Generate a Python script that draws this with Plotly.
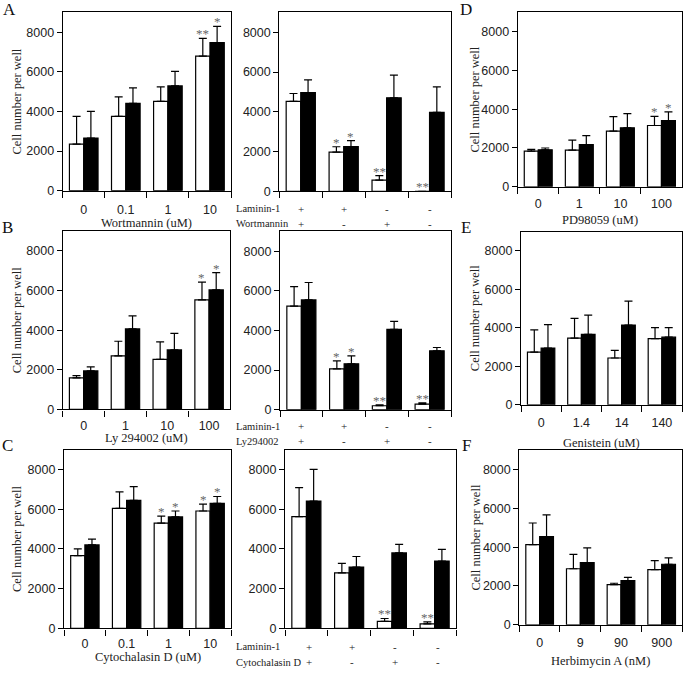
import plotly.graph_objects as go

W, H = 685, 675

# ---------------- data ----------------
wort_cats = ["0", "0.1", "1", "10"]
wort_white = [2350, 3750, 4510, 6790]
wort_white_err = [1400, 990, 730, 900]
wort_black = [2660, 4410, 5290, 7470]
wort_black_err = [1340, 780, 730, 820]

wortlam_cats = ["1", "2", "3", "4"]
wortlam_white = [4520, 1970, 560, 0]
wortlam_white_err = [400, 270, 230, 0]
wortlam_black = [4970, 2250, 4700, 3970]
wortlam_black_err = [630, 300, 1140, 1280]

pd_cats = ["0", "1", "10", "100"]
pd_white = [1840, 1890, 2870, 3160]
pd_white_err = [90, 520, 750, 470]
pd_black = [1910, 2170, 3040, 3410]
pd_black_err = [90, 470, 730, 450]

ly_cats = ["0", "1", "10", "100"]
ly_white = [1590, 2700, 2530, 5530]
ly_white_err = [120, 740, 880, 890]
ly_black = [1940, 4060, 3000, 6030]
ly_black_err = [210, 660, 840, 870]

lylam_cats = ["1", "2", "3", "4"]
lylam_white = [5230, 2060, 200, 280]
lylam_white_err = [980, 400, 50, 70]
lylam_black = [5540, 2320, 4050, 2970]
lylam_black_err = [880, 400, 410, 170]

gen_cats = ["0", "1.4", "14", "140"]
gen_white = [2740, 3460, 2430, 3440]
gen_white_err = [1150, 1030, 400, 570]
gen_black = [2950, 3660, 4140, 3510]
gen_black_err = [1210, 1000, 1250, 500]

cyto_cats = ["0", "0.1", "1", "10"]
cyto_white = [3660, 6040, 5300, 5910]
cyto_white_err = [340, 830, 350, 350]
cyto_black = [4200, 6440, 5610, 6290]
cyto_black_err = [290, 700, 300, 350]

cytolam_cats = ["1", "2", "3", "4"]
cytolam_white = [5630, 2800, 350, 230]
cytolam_white_err = [1460, 470, 150, 100]
cytolam_black = [6410, 3090, 3800, 3390]
cytolam_black_err = [1590, 530, 430, 590]

herb_cats = ["0", "9", "90", "900"]
herb_white = [4130, 2890, 2070, 2840]
herb_white_err = [1120, 740, 70, 470]
herb_black = [4550, 3210, 2280, 3120]
herb_black_err = [1120, 760, 160, 330]

laminin_signs = ["+", "+", "-", "-"]
drug_signs = ["+", "-", "+", "-"]

y_ticks = [0, 2000, 4000, 6000, 8000]
y_title = "Cell number per well"

# stars: (category index, 'w' or 'b', text)
wort_stars = [(3, "w", "**"), (3, "b", "*")]
wortlam_stars = [(1, "w", "*"), (1, "b", "*"), (2, "w", "**"), (3, "w", "**")]
pd_stars = [(3, "w", "*"), (3, "b", "*")]
ly_stars = [(3, "w", "*"), (3, "b", "*")]
lylam_stars = [(1, "w", "*"), (1, "b", "*"), (2, "w", "**"), (3, "w", "**")]
gen_stars = []
cyto_stars = [(2, "w", "*"), (2, "b", "*"), (3, "w", "*"), (3, "b", "*")]
cytolam_stars = [(2, "w", "**"), (3, "w", "**")]
herb_stars = []

# ---------------- panel layout (pixel boxes: left, right, top, bottom) ----------------
panels = [
    dict(cats=wort_cats, w=wort_white, we=wort_white_err, b=wort_black, be=wort_black_err,
         stars=wort_stars, box=(62.7, 231, 12.5, 192.7), kind="left", standoff=7,
         xtitle="Wortmannin (uM)", xt_y=225, letter="A", let_xy=(9, 10), ytitle_x=17),
    dict(cats=wortlam_cats, w=wortlam_white, we=wortlam_white_err, b=wortlam_black, be=wortlam_black_err,
         stars=wortlam_stars, box=(279.3, 451, 12.5, 193.3), kind="mid", standoff=5,
         rowname="Wortmannin", rows_y=(211, 226), sign_shift=0),
    dict(cats=pd_cats, w=pd_white, we=pd_white_err, b=pd_black, be=pd_black_err,
         stars=pd_stars, box=(517.7, 682, 12.5, 188.7), kind="left", standoff=5,
         xtitle="PD98059 (uM)", xt_y=222, letter="D", let_xy=(466, 10), ytitle_x=475),
    dict(cats=ly_cats, w=ly_white, we=ly_white_err, b=ly_black, be=ly_black_err,
         stars=ly_stars, box=(62.7, 230, 233.5, 413.7), kind="left", standoff=4,
         xtitle="Ly 294002 (uM)", xt_y=442.5, letter="B", let_xy=(7, 230), ytitle_x=17),
    dict(cats=lylam_cats, w=lylam_white, we=lylam_white_err, b=lylam_black, be=lylam_black_err,
         stars=lylam_stars, box=(280, 451, 233.8, 414), kind="mid", standoff=5,
         rowname="Ly294002", rows_y=(430.7, 446), sign_shift=0),
    dict(cats=gen_cats, w=gen_white, we=gen_white_err, b=gen_black, be=gen_black_err,
         stars=gen_stars, box=(521, 682, 234, 409), kind="left", standoff=6,
         xtitle="Genistein (uM)", xt_y=447.5, letter="E", let_xy=(466, 230), ytitle_x=475),
    dict(cats=cyto_cats, w=cyto_white, we=cyto_white_err, b=cyto_black, be=cyto_black_err,
         stars=cyto_stars, box=(64, 231, 454.3, 635), kind="left", standoff=3,
         xtitle="Cytochalasin D (uM)", xt_y=663.5, letter="C", let_xy=(7, 450), ytitle_x=17),
    dict(cats=cytolam_cats, w=cytolam_white, we=cytolam_white_err, b=cytolam_black, be=cytolam_black_err,
         stars=cytolam_stars, box=(285, 456, 454.3, 635), kind="mid", standoff=5,
         rowname="Cytochalasin D", rows_y=(653.3, 669), sign_shift=3),
    dict(cats=herb_cats, w=herb_white, we=herb_white_err, b=herb_black, be=herb_black_err,
         stars=herb_stars, box=(519.3, 682, 455, 631.3), kind="left", standoff=6,
         xtitle="Herbimycin A (nM)", xt_y=668, letter="F", let_xy=(466, 450), ytitle_x=476),
]

SANS = "Liberation Sans, Arial, Helvetica, sans-serif"
SERIF = "Liberation Serif, Times New Roman, serif"
LW = 1.2

fig = go.Figure()
annotations = []
layout_axes = {}


def px_x(x):
    return x / W


def px_y(y):
    return 1 - y / H


for i, p in enumerate(panels, start=1):
    xa = "x" if i == 1 else f"x{i}"
    ya = "y" if i == 1 else f"y{i}"
    xkey = "xaxis" if i == 1 else f"xaxis{i}"
    ykey = "yaxis" if i == 1 else f"yaxis{i}"
    left, right, top, bottom = p["box"]

    for vals, errs, col in ((p["w"], p["we"], "white"), (p["b"], p["be"], "black")):
        fig.add_trace(go.Bar(
            x=p["cats"], y=vals, xaxis=xa, yaxis=ya,
            marker=dict(color=col, line=dict(color="black", width=LW)),
            error_y=dict(type="data", symmetric=False, array=errs,
                         arrayminus=[0] * len(errs), color="black",
                         thickness=LW, width=4),
            showlegend=False, hoverinfo="skip",
        ))

    layout_axes[xkey] = dict(
        domain=[px_x(left), px_x(right)], anchor=ya, type="category",
        categoryorder="array", categoryarray=p["cats"], range=[-0.5, 3.5],
        tickson="boundaries", ticks="outside", ticklen=6, tickwidth=LW,
        tickcolor="black", showline=True, linecolor="black", linewidth=LW,
        mirror=True, showgrid=False, zeroline=False,
        showticklabels=(p["kind"] == "left"),
        tickfont=dict(family=SANS, size=12.5, color="#222"),
        ticklabelstandoff=p["standoff"],
    )
    layout_axes[ykey] = dict(
        domain=[px_y(bottom), px_y(top)], anchor=xa, range=[0, 9000],
        tickvals=y_ticks, ticks="outside", ticklen=5, tickwidth=LW,
        tickcolor="black", showline=True, linecolor="black", linewidth=LW,
        mirror=True, showgrid=False, zeroline=False,
        tickfont=dict(family=SANS, size=12.5, color="#222"),
        ticklabelstandoff=0,
    )

    # stars
    for ci, s, txt in p["stars"]:
        if s == "w":
            xv = ci - 0.17
            yv = p["w"][ci] + p["we"][ci]
        else:
            xv = ci + 0.17
            yv = p["b"][ci] + p["be"][ci]
        annotations.append(dict(
            x=xv, y=yv, xref=xa, yref=ya, text=txt, showarrow=False,
            xanchor="center", yanchor="bottom", yshift=-5,
            font=dict(family=SERIF, size=13, color="#666666"),
        ))

    if p["kind"] == "left":
        annotations.append(dict(
            x=px_x((left + right) / 2), y=px_y(p["xt_y"]), xref="paper", yref="paper",
            text=p["xtitle"], showarrow=False, xanchor="center", yanchor="middle",
            font=dict(family=SERIF, size=12.5, color="#222"),
        ))
        annotations.append(dict(
            x=px_x(p["ytitle_x"]), y=px_y((top + bottom) / 2), xref="paper", yref="paper",
            text=y_title, showarrow=False, textangle=-90,
            xanchor="center", yanchor="middle",
            font=dict(family=SERIF, size=12.5, color="#222"),
        ))
        lx, ly = p["let_xy"]
        annotations.append(dict(
            x=px_x(lx), y=px_y(ly), xref="paper", yref="paper",
            text=p["letter"], showarrow=False, xanchor="center", yanchor="middle",
            font=dict(family=SERIF, size=17, color="#111"),
        ))
    else:
        y1, y2 = p["rows_y"]
        for label, yy, signs in (("Laminin-1", y1, laminin_signs), (p["rowname"], y2, drug_signs)):
            annotations.append(dict(
                x=px_x(234), y=px_y(yy), xref="paper", yref="paper",
                text=label, showarrow=False, xanchor="left", yanchor="middle",
                font=dict(family=SERIF, size=10.5, color="#222"),
            ))
            for ci, sg in enumerate(signs):
                annotations.append(dict(
                    x=ci, y=px_y(yy), xref=xa, yref="paper", xshift=p["sign_shift"],
                    text=sg, showarrow=False, xanchor="center", yanchor="middle",
                    font=dict(family=SERIF, size=11, color="#222"),
                ))

fig.update_layout(
    width=W, height=H, margin=dict(l=0, r=0, t=0, b=0),
    paper_bgcolor="white", plot_bgcolor="white",
    barmode="group", bargap=0.32, bargroupgap=0,
    showlegend=False, annotations=annotations, **layout_axes,
)

fig.write_html(
    "out.html",
    config={"displayModeBar": False},
    post_script="document.body.style.margin='0';document.body.style.overflow='hidden';",
)
